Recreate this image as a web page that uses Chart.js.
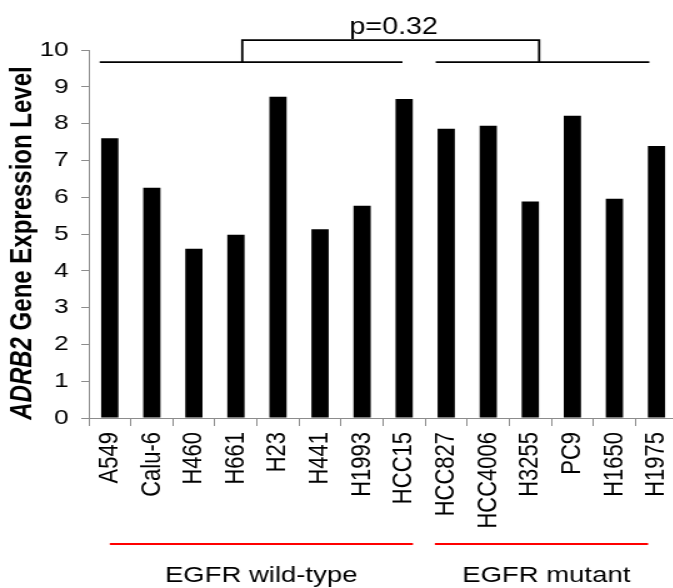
<!DOCTYPE html>
<html>
<head>
<meta charset="utf-8">
<script src="https://cdn.jsdelivr.net/npm/chart.js@4.4.1/dist/chart.umd.min.js"></script>
<style>
    html, body { margin: 0; padding: 0; background: #fff; overflow: hidden; }
    #wrap { width: 673px; height: 588px; overflow: hidden; }
    /* the source picture is stretched sideways, so the canvas is too */
    #chart { transform: scaleX(1.25); transform-origin: 0 0; }
</style>
</head>
<body>
<div id="wrap"><canvas id="chart" width="552" height="588"></canvas></div>
<script>
const cellLines = ['A549', 'Calu-6', 'H460', 'H661', 'H23', 'H441', 'H1993', 'HCC15',
    'HCC827', 'HCC4006', 'H3255', 'PC9', 'H1650', 'H1975'];
const expression = [7.60, 6.26, 4.60, 4.98, 8.73, 5.13, 5.77, 8.67,
    7.86, 7.94, 5.88, 8.21, 5.96, 7.39];
const yTicks = [0, 1, 2, 3, 4, 5, 6, 7, 8, 9, 10];
const groupNames = ['EGFR wild-type', 'EGFR mutant'];
const pLabel = 'p=0.32';

const FONT = '"Liberation Sans", Arial, sans-serif';

// bracket + group decorations, positions in category-index units
function drawExtras(chart) {
    const ctx = chart.ctx;
    const x = chart.scales.x, y = chart.scales.y;
    const c0 = x.getPixelForValue(0);
    const cw = x.getPixelForValue(1) - c0;
    const px = f => c0 + f * cw;
    const area = chart.chartArea;

    ctx.save();
    // significance bracket
    ctx.strokeStyle = '#000';
    ctx.lineWidth = 1.8;
    const yLow = y.getPixelForValue(9.67);
    const yHigh = y.getPixelForValue(10.27);
    ctx.beginPath();
    ctx.moveTo(px(-0.24), yLow); ctx.lineTo(px(6.96), yLow);
    ctx.moveTo(px(7.75), yLow); ctx.lineTo(px(12.83), yLow);
    ctx.moveTo(px(3.15), yLow); ctx.lineTo(px(3.15), yHigh); ctx.lineTo(px(10.21), yHigh); ctx.lineTo(px(10.21), yLow);
    ctx.stroke();

    ctx.fillStyle = '#000';
    ctx.font = '23px ' + FONT;
    ctx.textAlign = 'center';
    ctx.textBaseline = 'alphabetic';
    ctx.fillText(pLabel, px(6.75), y.getPixelForValue(10.43));

    // group underlines
    ctx.strokeStyle = '#ff0000';
    ctx.lineWidth = 2.2;
    const yRed = area.bottom + 126;
    ctx.beginPath();
    ctx.moveTo(px(0), yRed); ctx.lineTo(px(7.21), yRed);
    ctx.moveTo(px(7.73), yRed); ctx.lineTo(px(12.8), yRed);
    ctx.stroke();

    ctx.font = '22px ' + FONT;
    ctx.fillText(groupNames[0], px(3.6), area.bottom + 164);
    ctx.fillText(groupNames[1], px(10.38), area.bottom + 164);

    // y axis title, gene name in italics
    const part1 = 'ADRB2', part2 = ' Gene Expression Level';
    const f1 = 'italic bold 24px ' + FONT, f2 = 'bold 24px ' + FONT;
    ctx.font = f1; const w1 = ctx.measureText(part1).width;
    ctx.font = f2; const w2 = ctx.measureText(part2).width;
    ctx.translate(24.5, 243);
    ctx.rotate(-Math.PI / 2);
    ctx.textAlign = 'left';
    ctx.font = f1; ctx.fillText(part1, -(w1 + w2) / 2, 0);
    ctx.font = f2; ctx.fillText(part2, -(w1 + w2) / 2 + w1, 0);
    ctx.restore();
}

new Chart(document.getElementById('chart').getContext('2d'), {
    type: 'bar',
    data: {
        labels: cellLines,
        datasets: [{
            data: expression,
            backgroundColor: '#000',
            borderWidth: 0,
            barPercentage: 0.41,
            categoryPercentage: 1
        }]
    },
    options: {
        responsive: false,
        animation: false,
        layout: { padding: { top: 50, right: 10, bottom: 0, left: 0 } },
        plugins: { legend: { display: false }, tooltip: { enabled: false } },
        scales: {
            x: {
                offset: true,
                grid: { drawOnChartArea: false, tickLength: 8, color: '#8c8c8c' },
                border: { color: '#8c8c8c' },
                ticks: {
                    color: '#000', font: { family: FONT, size: 22 },
                    maxRotation: 90, minRotation: 90, padding: 6, autoSkip: false
                },
                afterFit: s => { s.height = 170; s.paddingLeft = 0; s.paddingRight = 0; }
            },
            y: {
                min: yTicks[0],
                max: yTicks[yTicks.length - 1],
                afterBuildTicks: s => { s.ticks = yTicks.map(v => ({ value: v })); },
                grid: { drawOnChartArea: false, tickLength: 6, color: '#8c8c8c' },
                border: { color: '#8c8c8c' },
                ticks: { color: '#000', font: { family: FONT, size: 21 }, padding: 10 },
                afterFit: s => { s.width = 71; s.paddingTop = 0; s.paddingBottom = 0; }
            }
        }
    },
    plugins: [{ id: 'extras', afterDraw: drawExtras }]
});
</script>
</body>
</html>
